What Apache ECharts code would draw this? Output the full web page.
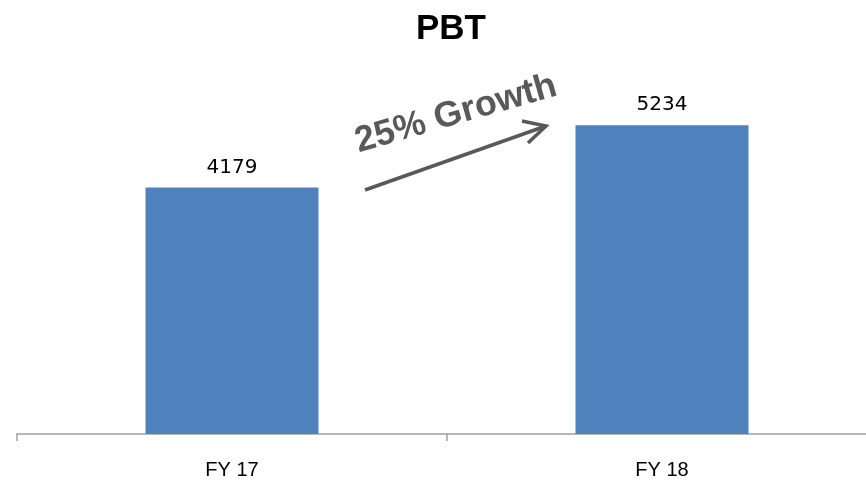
<!DOCTYPE html>
<html>
<head>
<meta charset="utf-8">
<script src="https://cdn.jsdelivr.net/npm/echarts@6/dist/echarts.min.js"></script>
<style>html,body{margin:0;padding:0;background:#fff;overflow:hidden;width:866px;height:484px}#c{width:877px;height:484px}</style>
</head>
<body>
<div id="c"></div>
<script>
const categories = ['FY 17', 'FY 18'];
const pbtValues = [4179, 5234];
const titleText = 'PBT';
const growthText = '25% Growth';

const chart = echarts.init(document.getElementById('c'));
chart.setOption({
  animation: false,
  backgroundColor: '#ffffff',
  title: {
    text: titleText,
    left: 411, top: 7,
    textStyle: { fontFamily: 'Liberation Sans', fontWeight: 'bold', fontSize: 35, color: '#000' }
  },
  grid: { left: 17, right: 0, top: 80, bottom: 50, containLabel: false },
  xAxis: {
    type: 'category', data: categories,
    axisLine: { lineStyle: { color: '#a0a0a0', width: 1.5 } },
    axisTick: { show: true, length: 7, lineStyle: { color: '#a0a0a0', width: 1.5 } },
    axisLabel: { margin: 26, color: '#000', fontFamily: 'Liberation Sans', fontSize: 20 }
  },
  yAxis: { type: 'value', min: 0, max: 6000, show: false, splitLine: { show: false } },
  series: [{
    type: 'bar', data: pbtValues, barWidth: 173,
    itemStyle: { color: '#4F81BD' },
    label: { show: true, position: 'top', distance: 10, color: '#000', fontFamily: 'DejaVu Sans', fontSize: 20 }
  }],
  graphic: [
    {
      type: 'text', x: 456, y: 114, rotation: 16 * Math.PI / 180,
      style: { text: growthText, fill: '#595959', font: 'bold 36px "Liberation Sans"', textAlign: 'center', textVerticalAlign: 'middle' }
    },
    { type: 'line', shape: { x1: 365, y1: 190, x2: 546, y2: 126 }, style: { stroke: '#595959', lineWidth: 3.5 } },
    { type: 'polyline', shape: { points: [[522, 121], [546, 126], [528, 143]] }, style: { stroke: '#595959', lineWidth: 3.5, fill: null } }
  ]
});
</script>
</body>
</html>
